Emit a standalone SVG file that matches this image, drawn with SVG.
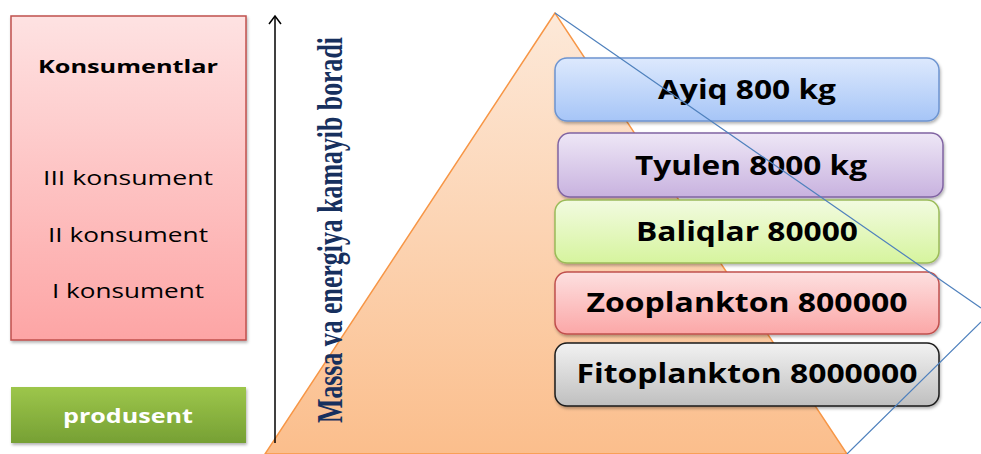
<svg xmlns="http://www.w3.org/2000/svg" width="981" height="454" viewBox="0 0 981 454">
<defs>
<linearGradient id="gPyr" x1="0" y1="0" x2="0" y2="1"><stop offset="0" stop-color="#fde9d9"/><stop offset="1" stop-color="#fbbe8c"/></linearGradient>
<linearGradient id="gPink" x1="0" y1="0" x2="0" y2="1"><stop offset="0" stop-color="#fee2e2"/><stop offset="1" stop-color="#fda5a5"/></linearGradient>
<linearGradient id="gProd" x1="0" y1="0" x2="0" y2="1"><stop offset="0" stop-color="#9dc64b"/><stop offset="1" stop-color="#76a034"/></linearGradient>
<linearGradient id="gBlue" x1="0" y1="0" x2="0" y2="1"><stop offset="0" stop-color="#dde9fd"/><stop offset="1" stop-color="#a6c5f7"/></linearGradient>
<linearGradient id="gPurp" x1="0" y1="0" x2="0" y2="1"><stop offset="0" stop-color="#eee7f6"/><stop offset="1" stop-color="#c8b2df"/></linearGradient>
<linearGradient id="gGreen" x1="0" y1="0" x2="0" y2="1"><stop offset="0" stop-color="#f2fbe0"/><stop offset="1" stop-color="#d6f49e"/></linearGradient>
<linearGradient id="gRed" x1="0" y1="0" x2="0" y2="1"><stop offset="0" stop-color="#fde0e0"/><stop offset="1" stop-color="#fba7a7"/></linearGradient>
<linearGradient id="gGray" x1="0" y1="0" x2="0" y2="1"><stop offset="0" stop-color="#f2f2f2"/><stop offset="1" stop-color="#bfbfbf"/></linearGradient>
<filter id="sh" x="-10%" y="-10%" width="120%" height="130%"><feDropShadow dx="1" dy="2" stdDeviation="1.5" flood-color="#000" flood-opacity="0.3"/></filter>
</defs>
<style>
.lvl text{font-family:"Open Sans","DejaVu Sans",sans-serif;font-weight:700;font-size:26px;fill:#000;text-anchor:middle}
.lt{font-family:"Open Sans","DejaVu Sans",sans-serif;font-size:20px;fill:#000;text-anchor:middle}
</style>
<g id="pyramid">
<path d="M555,13 L265,454 L847,454 Z" fill="url(#gPyr)" stroke="#f79646" stroke-width="1.5"/>
</g>
<g id="konsumentlar">
<rect x="11" y="16" width="235" height="324" fill="url(#gPink)" stroke="#c0504d" stroke-width="1.5" filter="url(#sh)"/>
<text class="lt" x="128" y="73" font-weight="700" style="font-size:18px" textLength="180" lengthAdjust="spacingAndGlyphs">Konsumentlar</text>
<text class="lt" x="128" y="185" textLength="170" lengthAdjust="spacingAndGlyphs">III konsument</text>
<text class="lt" x="128" y="242" textLength="160" lengthAdjust="spacingAndGlyphs">II konsument</text>
<text class="lt" x="128" y="298" textLength="152" lengthAdjust="spacingAndGlyphs">I konsument</text>
</g>
<g id="produsent">
<rect x="11" y="387" width="235" height="56" fill="url(#gProd)" filter="url(#sh)"/>
<text class="lt" x="128" y="423" font-weight="700" style="fill:#fff" textLength="130" lengthAdjust="spacingAndGlyphs">produsent</text>
</g>
<g id="connectors">
<line x1="275" y1="443" x2="275" y2="16" stroke="#000" stroke-width="1.5"/>
<path d="M269,24 L275,16 L281,24" fill="none" stroke="#000" stroke-width="1.5"/>
</g>
<g id="axis-label">
<text transform="translate(342,423) rotate(-90)" font-family="'Liberation Serif','Times New Roman',serif" font-weight="700" font-size="35" fill="#17305e" textLength="386" lengthAdjust="spacingAndGlyphs">Massa va energiya kamayib boradi</text>
</g>
<g id="ayiq" class="lvl">
<rect x="555" y="58" width="384" height="63" rx="12" fill="url(#gBlue)" stroke="#6d94d0" stroke-width="1.5" filter="url(#sh)"/>
<text x="747" y="99" textLength="178" lengthAdjust="spacingAndGlyphs">Ayiq 800 kg</text>
</g>
<g id="tyulen" class="lvl">
<rect x="558" y="133" width="385" height="64" rx="12" fill="url(#gPurp)" stroke="#8064a2" stroke-width="1.5" filter="url(#sh)"/>
<text x="751" y="175" textLength="232" lengthAdjust="spacingAndGlyphs">Tyulen 8000 kg</text>
</g>
<g id="baliqlar" class="lvl">
<rect x="555" y="200" width="384" height="63" rx="12" fill="url(#gGreen)" stroke="#9bbb59" stroke-width="1.5" filter="url(#sh)"/>
<text x="747" y="241" textLength="222" lengthAdjust="spacingAndGlyphs">Baliqlar 80000</text>
</g>
<g id="zooplankton" class="lvl">
<rect x="555" y="272" width="384" height="62" rx="12" fill="url(#gRed)" stroke="#c0504d" stroke-width="1.5" filter="url(#sh)"/>
<text x="747" y="312" textLength="321" lengthAdjust="spacingAndGlyphs">Zooplankton 800000</text>
</g>
<g id="fitoplankton" class="lvl">
<rect x="555" y="343" width="384" height="63" rx="12" fill="url(#gGray)" stroke="#1a1a1a" stroke-width="1.5" filter="url(#sh)"/>
<text x="747" y="383" textLength="341" lengthAdjust="spacingAndGlyphs">Fitoplankton 8000000</text>
</g>
<g id="outline">
<path d="M555,13 L981,308 M981,322 L847,454" fill="none" stroke="#4f81bd" stroke-width="1.2"/>
</g>
</svg>
